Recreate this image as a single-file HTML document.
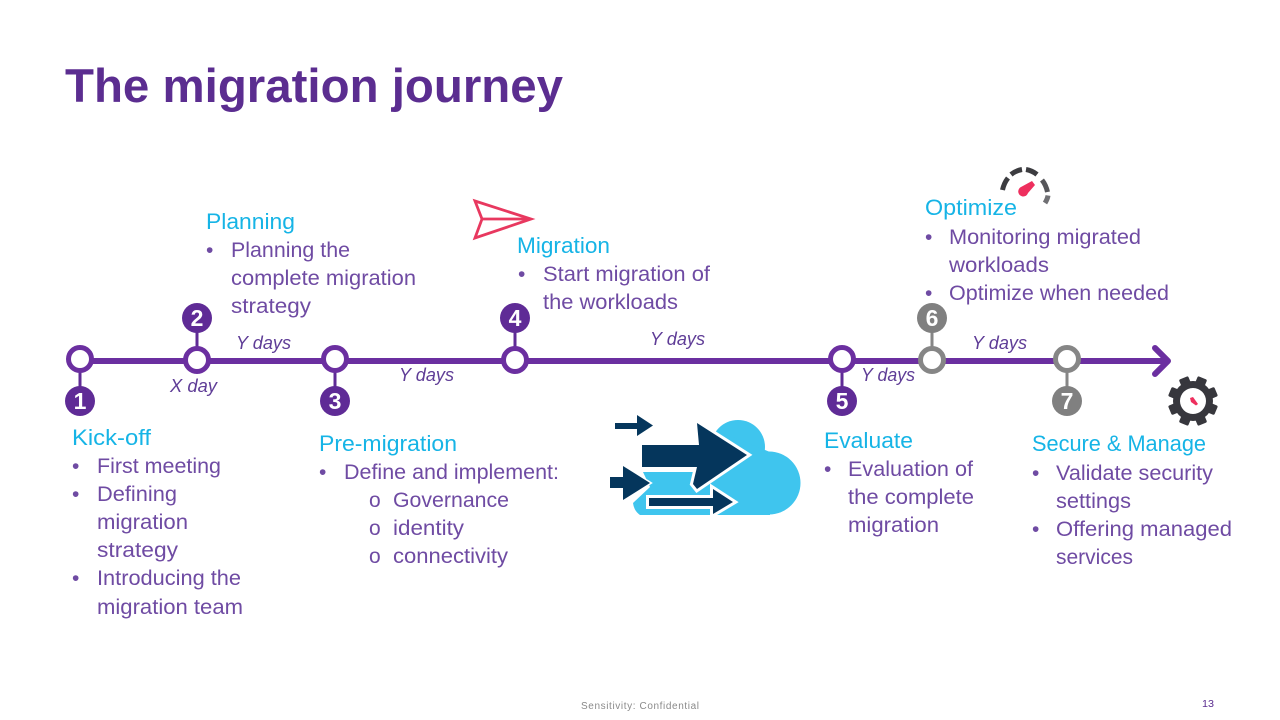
<!DOCTYPE html>
<html><head><meta charset="utf-8"><style>
html,body{margin:0;padding:0;background:#fff}
svg{display:block}
text{font-family:"Liberation Sans",sans-serif}
.t{font-size:21px;fill:#6f4ba3}
.h{font-size:22px;fill:#16b4e6}
.d{font-size:18px;font-style:italic;fill:#5f3d97}
.n{font-size:23px;font-weight:bold;fill:#fff;text-anchor:middle}
</style></head><body>
<svg width="1280" height="720" viewBox="0 0 1280 720" xmlns="http://www.w3.org/2000/svg">
<rect width="1280" height="720" fill="#fff"/>
<text x="65" y="102" font-size="47" font-weight="bold" fill="#5b2d90" textLength="498" lengthAdjust="spacingAndGlyphs">The migration journey</text>

<!-- Timeline -->
<line x1="80" y1="361" x2="1166" y2="361" stroke="#6b2fa0" stroke-width="6"/>
<polyline points="1155,348 1168,361 1155,374" fill="none" stroke="#6b2fa0" stroke-width="6" stroke-linecap="round" stroke-linejoin="round"/>
<g stroke-width="3">
<line x1="80" y1="361" x2="80" y2="400" stroke="#5f2b96"/>
<line x1="197" y1="318" x2="197" y2="361" stroke="#5f2b96"/>
<line x1="335" y1="361" x2="335" y2="400" stroke="#5f2b96"/>
<line x1="515" y1="318" x2="515" y2="361" stroke="#5f2b96"/>
<line x1="842" y1="361" x2="842" y2="400" stroke="#5f2b96"/>
<line x1="932" y1="318" x2="932" y2="361" stroke="#868686"/>
<line x1="1067" y1="361" x2="1067" y2="400" stroke="#868686"/>
</g>
<g fill="#fff" stroke-width="5">
<circle cx="80" cy="359" r="11.5" stroke="#6b2fa0"/>
<circle cx="197" cy="360" r="11.5" stroke="#6b2fa0"/>
<circle cx="335" cy="359" r="11.5" stroke="#6b2fa0"/>
<circle cx="515" cy="360" r="11.5" stroke="#6b2fa0"/>
<circle cx="842" cy="359" r="11.5" stroke="#6b2fa0"/>
<circle cx="932" cy="360" r="11.5" stroke="#868686"/>
<circle cx="1067" cy="359" r="11.5" stroke="#868686"/>
</g>
<g fill="#5f2b96">
<circle cx="80" cy="401" r="15"/><circle cx="197" cy="318" r="15"/><circle cx="335" cy="401" r="15"/><circle cx="515" cy="318" r="15"/><circle cx="842" cy="401" r="15"/>
</g>
<g fill="#808080"><circle cx="932" cy="318" r="15"/><circle cx="1067" cy="401" r="15"/></g>
<text class="n" x="80" y="409">1</text>
<text class="n" x="197" y="326">2</text>
<text class="n" x="335" y="409">3</text>
<text class="n" x="515" y="326">4</text>
<text class="n" x="842" y="409">5</text>
<text class="n" x="932" y="326">6</text>
<text class="n" x="1067" y="409">7</text>

<!-- Durations -->
<text class="d" x="170" y="392" textLength="47" lengthAdjust="spacingAndGlyphs">X day</text>
<text class="d" x="236" y="349" textLength="55" lengthAdjust="spacingAndGlyphs">Y days</text>
<text class="d" x="399" y="381" textLength="55" lengthAdjust="spacingAndGlyphs">Y days</text>
<text class="d" x="650" y="345" textLength="55" lengthAdjust="spacingAndGlyphs">Y days</text>
<text class="d" x="861" y="381" textLength="54" lengthAdjust="spacingAndGlyphs">Y days</text>
<text class="d" x="972" y="349" textLength="55" lengthAdjust="spacingAndGlyphs">Y days</text>

<!-- Kick-off -->
<text class="h" x="72" y="445" textLength="79" lengthAdjust="spacingAndGlyphs">Kick-off</text>
<text class="t" x="72" y="473">•</text><text class="t" x="97" y="473" textLength="124" lengthAdjust="spacingAndGlyphs">First meeting</text>
<text class="t" x="72" y="501">•</text><text class="t" x="97" y="501" textLength="80" lengthAdjust="spacingAndGlyphs">Defining</text>
<text class="t" x="97" y="529" textLength="91" lengthAdjust="spacingAndGlyphs">migration</text>
<text class="t" x="97" y="557" textLength="81" lengthAdjust="spacingAndGlyphs">strategy</text>
<text class="t" x="72" y="585">•</text><text class="t" x="97" y="585" textLength="144" lengthAdjust="spacingAndGlyphs">Introducing the</text>
<text class="t" x="97" y="614" textLength="146" lengthAdjust="spacingAndGlyphs">migration team</text>

<!-- Planning -->
<text class="h" x="206" y="229" textLength="89" lengthAdjust="spacingAndGlyphs">Planning</text>
<text class="t" x="206" y="257">•</text><text class="t" x="231" y="257" textLength="119" lengthAdjust="spacingAndGlyphs">Planning the</text>
<text class="t" x="231" y="285" textLength="185" lengthAdjust="spacingAndGlyphs">complete migration</text>
<text class="t" x="231" y="313" textLength="80" lengthAdjust="spacingAndGlyphs">strategy</text>

<!-- Pre-migration -->
<text class="h" x="319" y="451" textLength="138" lengthAdjust="spacingAndGlyphs">Pre-migration</text>
<text class="t" x="319" y="479">•</text><text class="t" x="344" y="479" textLength="215" lengthAdjust="spacingAndGlyphs">Define and implement:</text>
<text class="t" x="369" y="507" font-size="19">o</text><text class="t" x="393" y="507" textLength="116" lengthAdjust="spacingAndGlyphs">Governance</text>
<text class="t" x="369" y="535" font-size="19">o</text><text class="t" x="393" y="535" textLength="71" lengthAdjust="spacingAndGlyphs">identity</text>
<text class="t" x="369" y="563" font-size="19">o</text><text class="t" x="393" y="563" textLength="115" lengthAdjust="spacingAndGlyphs">connectivity</text>

<!-- Migration -->
<text class="h" x="517" y="253" textLength="93" lengthAdjust="spacingAndGlyphs">Migration</text>
<text class="t" x="518" y="281">•</text><text class="t" x="543" y="281" textLength="167" lengthAdjust="spacingAndGlyphs">Start migration of</text>
<text class="t" x="543" y="309" textLength="135" lengthAdjust="spacingAndGlyphs">the workloads</text>

<!-- Evaluate -->
<text class="h" x="824" y="448" textLength="89" lengthAdjust="spacingAndGlyphs">Evaluate</text>
<text class="t" x="824" y="476">•</text><text class="t" x="848" y="476" textLength="125" lengthAdjust="spacingAndGlyphs">Evaluation of</text>
<text class="t" x="848" y="504" textLength="126" lengthAdjust="spacingAndGlyphs">the complete</text>
<text class="t" x="848" y="532" textLength="91" lengthAdjust="spacingAndGlyphs">migration</text>

<!-- Optimize -->
<text class="h" x="925" y="215" textLength="92" lengthAdjust="spacingAndGlyphs">Optimize</text>
<text class="t" x="925" y="244">•</text><text class="t" x="949" y="244" textLength="192" lengthAdjust="spacingAndGlyphs">Monitoring migrated</text>
<text class="t" x="949" y="272" textLength="100" lengthAdjust="spacingAndGlyphs">workloads</text>
<text class="t" x="925" y="300">•</text><text class="t" x="949" y="300" textLength="220" lengthAdjust="spacingAndGlyphs">Optimize when needed</text>

<!-- Secure -->
<text class="h" x="1032" y="451" textLength="174" lengthAdjust="spacingAndGlyphs">Secure &amp; Manage</text>
<text class="t" x="1032" y="480">•</text><text class="t" x="1056" y="480" textLength="157" lengthAdjust="spacingAndGlyphs">Validate security</text>
<text class="t" x="1056" y="508" textLength="75" lengthAdjust="spacingAndGlyphs">settings</text>
<text class="t" x="1032" y="536">•</text><text class="t" x="1056" y="536" textLength="176" lengthAdjust="spacingAndGlyphs">Offering managed</text>
<text class="t" x="1056" y="564" textLength="77" lengthAdjust="spacingAndGlyphs">services</text>

<!-- Paper plane -->
<g fill="none" stroke="#e8385f" stroke-width="2.8" stroke-linejoin="miter">
<polygon points="475,201 531,219 475,238 482,219"/>
<line x1="482" y1="219" x2="531" y2="219"/>
</g>

<!-- Gauge -->
<g fill="none" stroke="#3c3c40" stroke-width="5">
<path d="M1002.500,190 Q1004,183 1008,178"/>
<path d="M1011,174.500 Q1016,170.500 1022,169.500"/>
<path d="M1026,169.500 Q1032,170.500 1037,174.500"/>
<path d="M1042,180 Q1046,185 1047.500,192" stroke="#56565a"/>
<path d="M1048,195.500 Q1047.500,199 1045,203" stroke="#707074"/>
</g>
<path d="M1032,181 L1035,185 L1028,193 A5,5 0 1 1 1021,187 Z" fill="#ee2f5e"/>

<!-- Cloud illustration -->
<g fill="#3fc5ee">
<circle cx="738" cy="447" r="27"/>
<circle cx="769" cy="483" r="31.500"/>
<path d="M640,515 Q634,511 633,503 L650,487 L643,472 L700,472 L700,445 L720,432 L770,452 L770,515 Z"/>
</g>
<polygon points="697,423 699,445 697,467 693,484 697,489 747,455" fill="#05365c" stroke="#fff" stroke-width="6" stroke-linejoin="miter" paint-order="stroke"/>
<rect x="642" y="445" width="57" height="22" fill="#05365c"/>
<polygon points="615,423 637,423 637,415 653,425.500 637,436 637,429 615,429" fill="#05365c"/>
<polygon points="610,477 623,477 623,466 650,483 623,500 623,488 610,488" fill="#05365c" stroke="#fff" stroke-width="3" paint-order="stroke"/>
<polygon points="649,498 713,498 713,489 733,502 713,514 713,506 649,506" fill="#05365c" stroke="#fff" stroke-width="6" stroke-linejoin="miter" paint-order="stroke"/>

<!-- Gear -->
<g transform="translate(1193,401) rotate(22.500)">
<g fill="#37373d">
<rect x="-5" y="-25" width="10" height="50" rx="1.500"/>
<rect x="-5" y="-25" width="10" height="50" rx="1.500" transform="rotate(45)"/>
<rect x="-5" y="-25" width="10" height="50" rx="1.500" transform="rotate(90)"/>
<rect x="-5" y="-25" width="10" height="50" rx="1.500" transform="rotate(135)"/>
<circle r="20"/>
</g>
<circle r="13" fill="#fff"/>
</g>
<path d="M1190,398 L1193,397 L1198,404 L1196,405.500 L1191,402 Z" fill="#ee2f5e"/>

<text x="581" y="709" font-size="10" fill="#8a8a8a" textLength="118" lengthAdjust="spacing">Sensitivity: Confidential</text>
<text x="1202" y="707" font-size="10" fill="#5b2d90" textLength="12" lengthAdjust="spacingAndGlyphs">13</text>
</svg>
</body></html>
